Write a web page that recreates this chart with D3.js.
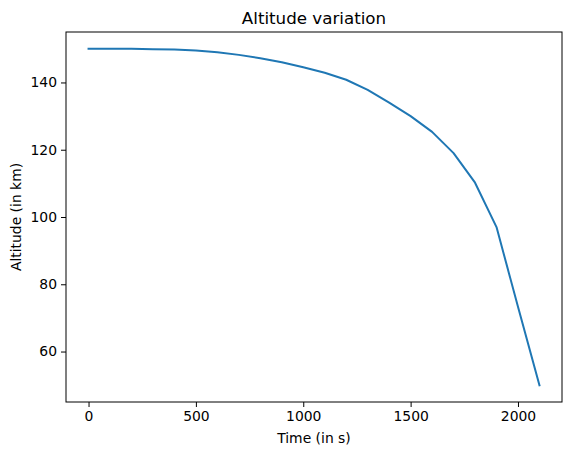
<!DOCTYPE html>
<html lang="en">
<head>
<meta charset="utf-8">
<title>Altitude variation</title>
<script src="https://d3js.org/d3.v7.min.js"></script>
<style>
  body { margin: 0; background: #fff; }
  text { font-family: "DejaVu Sans", sans-serif; fill: #000; }
</style>
</head>
<body>
<script>
// time (s) and altitude (km)
var times = [0, 100, 200, 300, 400, 500, 600, 700, 800, 900, 1000,
             1100, 1200, 1300, 1400, 1500, 1600, 1700, 1800, 1900, 2000, 2100];
var altitudes = [150, 150, 150, 149.9, 149.8, 149.5, 149, 148.2, 147.2, 146, 144.5,
                 142.9, 140.8, 137.8, 134, 130, 125.3, 119, 110.2, 97, 73.3, 50];
var xTicks = [0, 500, 1000, 1500, 2000];
var yTicks = [60, 80, 100, 120, 140];

var width = 571, height = 455;
var margin = {left: 66, right: 9, top: 32, bottom: 53};

var svg = d3.select("body").append("svg")
    .attr("width", width)
    .attr("height", height);

var x = d3.scaleLinear()
    .domain([-105, 2205])
    .range([margin.left, width - margin.right]);

var y = d3.scaleLinear()
    .domain([45, 155])
    .range([height - margin.bottom, margin.top]);

var data = times.map(function(t, i) { return {t: t, v: altitudes[i]}; });

// line
var line = d3.line()
    .x(function(d) { return x(d.t); })
    .y(function(d) { return y(d.v); });

svg.append("path")
    .datum(data)
    .attr("fill", "none")
    .attr("stroke", "#1f77b4")
    .attr("stroke-width", 2)
    .attr("stroke-linejoin", "round")
    .attr("stroke-linecap", "square")
    .attr("d", line);

// axes
var xAxis = d3.axisBottom(x).tickValues(xTicks).tickFormat(d3.format("d")).tickSize(5).tickPadding(4);
var yAxis = d3.axisLeft(y).tickValues(yTicks).tickFormat(d3.format("d")).tickSize(5).tickPadding(4);

var gx = svg.append("g")
    .attr("transform", "translate(0," + (height - margin.bottom) + ")")
    .call(xAxis);
var gy = svg.append("g")
    .attr("transform", "translate(" + margin.left + ",0)")
    .call(yAxis);

[gx, gy].forEach(function(g) {
  g.select(".domain").remove();
  g.selectAll(".tick line").attr("stroke", "#000").attr("stroke-width", 1);
  g.selectAll(".tick text")
    .style("font-family", "DejaVu Sans, sans-serif")
    .style("font-size", "13.9px")
    .attr("fill", "#000");
});

// frame
svg.append("rect")
    .attr("x", margin.left)
    .attr("y", margin.top)
    .attr("width", width - margin.left - margin.right)
    .attr("height", height - margin.top - margin.bottom)
    .attr("fill", "none")
    .attr("stroke", "#000")
    .attr("stroke-width", 1);

// labels
svg.append("text")
    .attr("x", (margin.left + width - margin.right) / 2)
    .attr("y", 24)
    .attr("text-anchor", "middle")
    .style("font-size", "16.7px")
    .text("Altitude variation");

svg.append("text")
    .attr("x", (margin.left + width - margin.right) / 2)
    .attr("y", 443)
    .attr("text-anchor", "middle")
    .style("font-size", "13.9px")
    .text("Time (in s)");

svg.append("text")
    .attr("transform", "translate(21," + (margin.top + height - margin.bottom) / 2 + ") rotate(-90)")
    .attr("text-anchor", "middle")
    .style("font-size", "13.9px")
    .text("Altitude (in km)");
</script>
</body>
</html>
